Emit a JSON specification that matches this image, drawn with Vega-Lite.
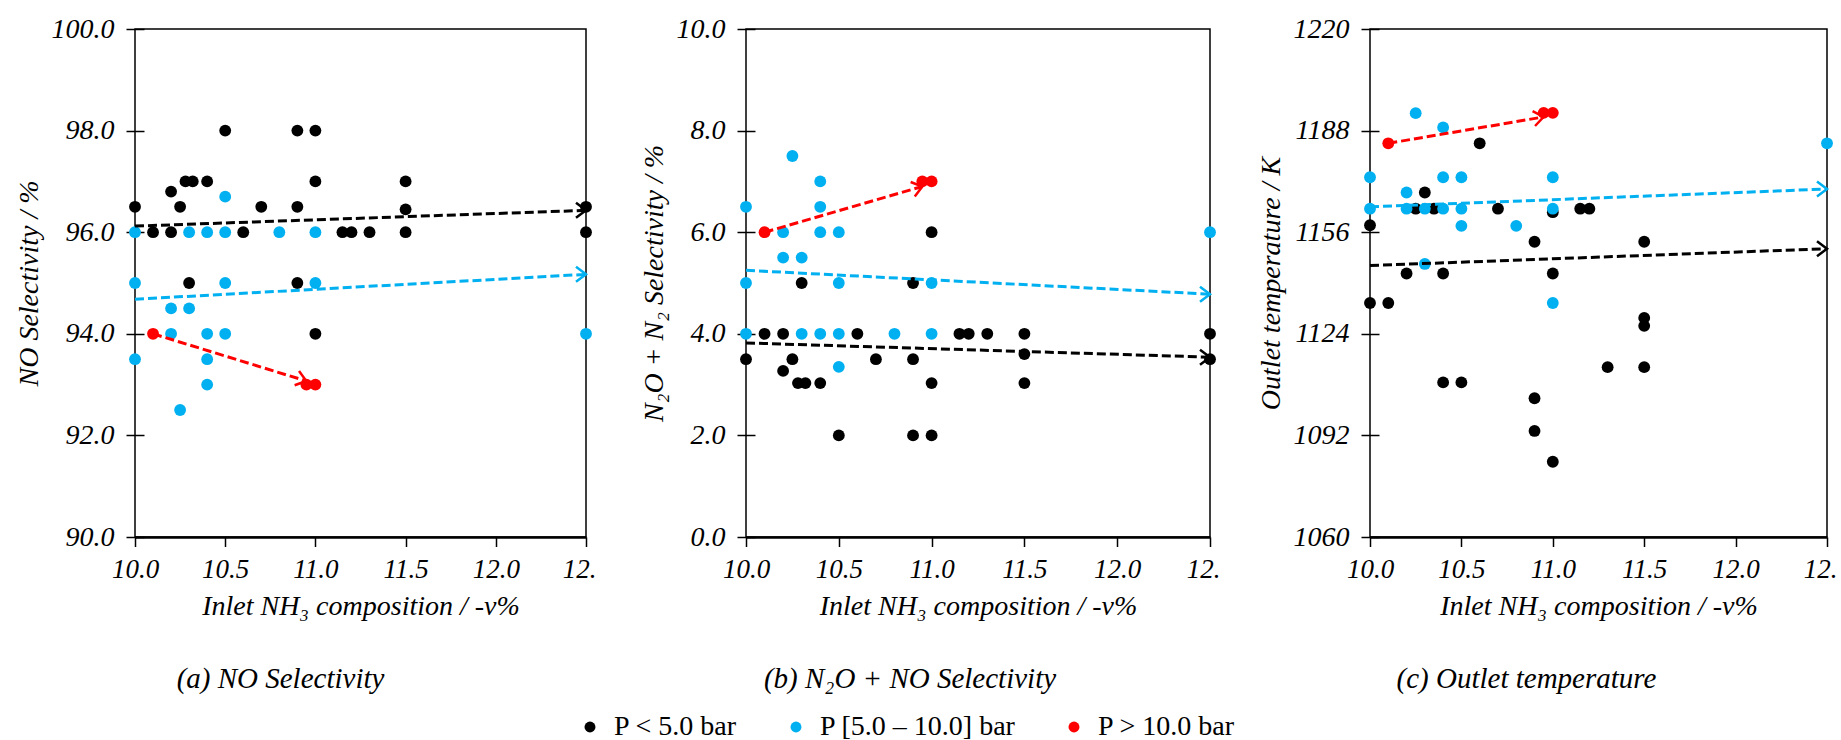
{
  "$schema": "https://vega.github.io/schema/vega-lite/v6.json",
  "background": "white",
  "padding": {"left": 14, "top": 14, "right": 0, "bottom": 0},
  "autosize": {"type": "pad"},
  "bounds": "flush",
  "spacing": 160,
  "config": {
    "font": "Liberation Serif",
    "view": {"stroke": "#000000", "strokeWidth": 1.5},
    "axis": {
      "grid": false,
      "labelFont": "Liberation Serif",
      "labelFontStyle": "italic",
      "labelColor": "#000000",
      "titleFont": "Liberation Serif",
      "titleFontStyle": "italic",
      "titleFontWeight": "normal",
      "titleColor": "#000000",
      "titleFontSize": 28,
      "tickColor": "#000000",
      "tickWidth": 1.5,
      "domainColor": "#000000"
    },
    "axisY": {
      "domain": false,
      "tickSize": 18,
      "offset": -9,
      "labelFontSize": 28,
      "labelPadding": 12,
      "titlePadding": 8
    },
    "axisX": {
      "tickSize": 9.5,
      "domainWidth": 2.5,
      "labelFontSize": 27,
      "labelPadding": 10,
      "titlePadding": 10,
      "labelFlush": false
    },
    "title": {
      "font": "Liberation Serif",
      "fontStyle": "italic",
      "fontWeight": "normal",
      "fontSize": 29,
      "color": "#000000",
      "orient": "bottom",
      "anchor": "middle",
      "offset": 44
    }
  },
  "resolve": {
    "scale": {"color": "shared", "stroke": "shared"},
    "legend": {"color": "shared"}
  },
  "datasets": {
    "points": [
      {"panel": "a", "p": "P < 5.0 bar", "x": 10.0, "y": 96.5},
      {"panel": "a", "p": "P < 5.0 bar", "x": 10.1, "y": 96.0},
      {"panel": "a", "p": "P < 5.0 bar", "x": 10.2, "y": 96.0},
      {"panel": "a", "p": "P < 5.0 bar", "x": 10.2, "y": 96.8},
      {"panel": "a", "p": "P < 5.0 bar", "x": 10.25, "y": 96.5},
      {"panel": "a", "p": "P < 5.0 bar", "x": 10.28, "y": 97.0},
      {"panel": "a", "p": "P < 5.0 bar", "x": 10.32, "y": 97.0},
      {"panel": "a", "p": "P < 5.0 bar", "x": 10.4, "y": 97.0},
      {"panel": "a", "p": "P < 5.0 bar", "x": 10.5, "y": 98.0},
      {"panel": "a", "p": "P < 5.0 bar", "x": 10.6, "y": 96.0},
      {"panel": "a", "p": "P < 5.0 bar", "x": 10.7, "y": 96.5},
      {"panel": "a", "p": "P < 5.0 bar", "x": 10.9, "y": 98.0},
      {"panel": "a", "p": "P < 5.0 bar", "x": 10.9, "y": 96.5},
      {"panel": "a", "p": "P < 5.0 bar", "x": 11.0, "y": 98.0},
      {"panel": "a", "p": "P < 5.0 bar", "x": 11.0, "y": 97.0},
      {"panel": "a", "p": "P < 5.0 bar", "x": 11.15, "y": 96.0},
      {"panel": "a", "p": "P < 5.0 bar", "x": 11.2, "y": 96.0},
      {"panel": "a", "p": "P < 5.0 bar", "x": 11.3, "y": 96.0},
      {"panel": "a", "p": "P < 5.0 bar", "x": 11.5, "y": 97.0},
      {"panel": "a", "p": "P < 5.0 bar", "x": 11.5, "y": 96.45},
      {"panel": "a", "p": "P < 5.0 bar", "x": 11.5, "y": 96.0},
      {"panel": "a", "p": "P < 5.0 bar", "x": 12.5, "y": 96.5},
      {"panel": "a", "p": "P < 5.0 bar", "x": 12.5, "y": 96.0},
      {"panel": "a", "p": "P < 5.0 bar", "x": 10.3, "y": 95.0},
      {"panel": "a", "p": "P < 5.0 bar", "x": 10.9, "y": 95.0},
      {"panel": "a", "p": "P < 5.0 bar", "x": 11.0, "y": 94.0},
      {"panel": "a", "p": "P [5.0 – 10.0] bar", "x": 10.0, "y": 96.0},
      {"panel": "a", "p": "P [5.0 – 10.0] bar", "x": 10.3, "y": 96.0},
      {"panel": "a", "p": "P [5.0 – 10.0] bar", "x": 10.4, "y": 96.0},
      {"panel": "a", "p": "P [5.0 – 10.0] bar", "x": 10.5, "y": 96.0},
      {"panel": "a", "p": "P [5.0 – 10.0] bar", "x": 10.5, "y": 96.7},
      {"panel": "a", "p": "P [5.0 – 10.0] bar", "x": 10.8, "y": 96.0},
      {"panel": "a", "p": "P [5.0 – 10.0] bar", "x": 11.0, "y": 96.0},
      {"panel": "a", "p": "P [5.0 – 10.0] bar", "x": 10.0, "y": 95.0},
      {"panel": "a", "p": "P [5.0 – 10.0] bar", "x": 10.5, "y": 95.0},
      {"panel": "a", "p": "P [5.0 – 10.0] bar", "x": 11.0, "y": 95.0},
      {"panel": "a", "p": "P [5.0 – 10.0] bar", "x": 10.2, "y": 94.5},
      {"panel": "a", "p": "P [5.0 – 10.0] bar", "x": 10.3, "y": 94.5},
      {"panel": "a", "p": "P [5.0 – 10.0] bar", "x": 10.2, "y": 94.0},
      {"panel": "a", "p": "P [5.0 – 10.0] bar", "x": 10.4, "y": 94.0},
      {"panel": "a", "p": "P [5.0 – 10.0] bar", "x": 10.5, "y": 94.0},
      {"panel": "a", "p": "P [5.0 – 10.0] bar", "x": 10.0, "y": 93.5},
      {"panel": "a", "p": "P [5.0 – 10.0] bar", "x": 10.4, "y": 93.5},
      {"panel": "a", "p": "P [5.0 – 10.0] bar", "x": 10.4, "y": 93.0},
      {"panel": "a", "p": "P [5.0 – 10.0] bar", "x": 10.25, "y": 92.5},
      {"panel": "a", "p": "P [5.0 – 10.0] bar", "x": 12.5, "y": 94.0},
      {"panel": "a", "p": "P > 10.0 bar", "x": 10.1, "y": 94.0},
      {"panel": "a", "p": "P > 10.0 bar", "x": 10.95, "y": 93.0},
      {"panel": "a", "p": "P > 10.0 bar", "x": 11.0, "y": 93.0},

      {"panel": "b", "p": "P < 5.0 bar", "x": 10.3, "y": 5.0},
      {"panel": "b", "p": "P < 5.0 bar", "x": 10.9, "y": 5.0},
      {"panel": "b", "p": "P < 5.0 bar", "x": 11.0, "y": 6.0},
      {"panel": "b", "p": "P < 5.0 bar", "x": 10.1, "y": 4.0},
      {"panel": "b", "p": "P < 5.0 bar", "x": 10.2, "y": 4.0},
      {"panel": "b", "p": "P < 5.0 bar", "x": 10.6, "y": 4.0},
      {"panel": "b", "p": "P < 5.0 bar", "x": 11.15, "y": 4.0},
      {"panel": "b", "p": "P < 5.0 bar", "x": 11.2, "y": 4.0},
      {"panel": "b", "p": "P < 5.0 bar", "x": 11.3, "y": 4.0},
      {"panel": "b", "p": "P < 5.0 bar", "x": 11.5, "y": 4.0},
      {"panel": "b", "p": "P < 5.0 bar", "x": 12.5, "y": 4.0},
      {"panel": "b", "p": "P < 5.0 bar", "x": 10.0, "y": 3.5},
      {"panel": "b", "p": "P < 5.0 bar", "x": 10.25, "y": 3.5},
      {"panel": "b", "p": "P < 5.0 bar", "x": 10.7, "y": 3.5},
      {"panel": "b", "p": "P < 5.0 bar", "x": 10.9, "y": 3.5},
      {"panel": "b", "p": "P < 5.0 bar", "x": 11.5, "y": 3.6},
      {"panel": "b", "p": "P < 5.0 bar", "x": 12.5, "y": 3.5},
      {"panel": "b", "p": "P < 5.0 bar", "x": 10.2, "y": 3.27},
      {"panel": "b", "p": "P < 5.0 bar", "x": 10.28, "y": 3.03},
      {"panel": "b", "p": "P < 5.0 bar", "x": 10.32, "y": 3.03},
      {"panel": "b", "p": "P < 5.0 bar", "x": 10.4, "y": 3.03},
      {"panel": "b", "p": "P < 5.0 bar", "x": 11.0, "y": 3.03},
      {"panel": "b", "p": "P < 5.0 bar", "x": 11.5, "y": 3.03},
      {"panel": "b", "p": "P < 5.0 bar", "x": 10.5, "y": 2.0},
      {"panel": "b", "p": "P < 5.0 bar", "x": 10.9, "y": 2.0},
      {"panel": "b", "p": "P < 5.0 bar", "x": 11.0, "y": 2.0},
      {"panel": "b", "p": "P [5.0 – 10.0] bar", "x": 10.25, "y": 7.5},
      {"panel": "b", "p": "P [5.0 – 10.0] bar", "x": 10.4, "y": 7.0},
      {"panel": "b", "p": "P [5.0 – 10.0] bar", "x": 10.0, "y": 6.5},
      {"panel": "b", "p": "P [5.0 – 10.0] bar", "x": 10.4, "y": 6.5},
      {"panel": "b", "p": "P [5.0 – 10.0] bar", "x": 10.2, "y": 6.0},
      {"panel": "b", "p": "P [5.0 – 10.0] bar", "x": 10.4, "y": 6.0},
      {"panel": "b", "p": "P [5.0 – 10.0] bar", "x": 10.5, "y": 6.0},
      {"panel": "b", "p": "P [5.0 – 10.0] bar", "x": 10.2, "y": 5.5},
      {"panel": "b", "p": "P [5.0 – 10.0] bar", "x": 10.3, "y": 5.5},
      {"panel": "b", "p": "P [5.0 – 10.0] bar", "x": 10.0, "y": 5.0},
      {"panel": "b", "p": "P [5.0 – 10.0] bar", "x": 10.5, "y": 5.0},
      {"panel": "b", "p": "P [5.0 – 10.0] bar", "x": 11.0, "y": 5.0},
      {"panel": "b", "p": "P [5.0 – 10.0] bar", "x": 12.5, "y": 6.0},
      {"panel": "b", "p": "P [5.0 – 10.0] bar", "x": 10.0, "y": 4.0},
      {"panel": "b", "p": "P [5.0 – 10.0] bar", "x": 10.3, "y": 4.0},
      {"panel": "b", "p": "P [5.0 – 10.0] bar", "x": 10.4, "y": 4.0},
      {"panel": "b", "p": "P [5.0 – 10.0] bar", "x": 10.5, "y": 4.0},
      {"panel": "b", "p": "P [5.0 – 10.0] bar", "x": 10.8, "y": 4.0},
      {"panel": "b", "p": "P [5.0 – 10.0] bar", "x": 11.0, "y": 4.0},
      {"panel": "b", "p": "P [5.0 – 10.0] bar", "x": 10.5, "y": 3.35},
      {"panel": "b", "p": "P > 10.0 bar", "x": 10.1, "y": 6.0},
      {"panel": "b", "p": "P > 10.0 bar", "x": 10.95, "y": 7.0},
      {"panel": "b", "p": "P > 10.0 bar", "x": 11.0, "y": 7.0},

      {"panel": "c", "p": "P < 5.0 bar", "x": 10.6, "y": 1184},
      {"panel": "c", "p": "P < 5.0 bar", "x": 10.3, "y": 1168.5},
      {"panel": "c", "p": "P < 5.0 bar", "x": 10.25, "y": 1163.4},
      {"panel": "c", "p": "P < 5.0 bar", "x": 10.35, "y": 1163.4},
      {"panel": "c", "p": "P < 5.0 bar", "x": 10.7, "y": 1163.4},
      {"panel": "c", "p": "P < 5.0 bar", "x": 11.15, "y": 1163.4},
      {"panel": "c", "p": "P < 5.0 bar", "x": 11.2, "y": 1163.4},
      {"panel": "c", "p": "P < 5.0 bar", "x": 11.0, "y": 1162.3},
      {"panel": "c", "p": "P < 5.0 bar", "x": 10.0, "y": 1158.2},
      {"panel": "c", "p": "P < 5.0 bar", "x": 10.9, "y": 1153},
      {"panel": "c", "p": "P < 5.0 bar", "x": 11.5, "y": 1153},
      {"panel": "c", "p": "P < 5.0 bar", "x": 10.2, "y": 1143},
      {"panel": "c", "p": "P < 5.0 bar", "x": 10.4, "y": 1143},
      {"panel": "c", "p": "P < 5.0 bar", "x": 11.0, "y": 1143},
      {"panel": "c", "p": "P < 5.0 bar", "x": 10.0, "y": 1133.7},
      {"panel": "c", "p": "P < 5.0 bar", "x": 10.1, "y": 1133.7},
      {"panel": "c", "p": "P < 5.0 bar", "x": 11.5, "y": 1129},
      {"panel": "c", "p": "P < 5.0 bar", "x": 11.5, "y": 1126.5},
      {"panel": "c", "p": "P < 5.0 bar", "x": 11.3, "y": 1113.5},
      {"panel": "c", "p": "P < 5.0 bar", "x": 11.5, "y": 1113.5},
      {"panel": "c", "p": "P < 5.0 bar", "x": 10.4, "y": 1108.7},
      {"panel": "c", "p": "P < 5.0 bar", "x": 10.5, "y": 1108.7},
      {"panel": "c", "p": "P < 5.0 bar", "x": 10.9, "y": 1103.7},
      {"panel": "c", "p": "P < 5.0 bar", "x": 10.9, "y": 1093.4},
      {"panel": "c", "p": "P < 5.0 bar", "x": 11.0, "y": 1083.7},
      {"panel": "c", "p": "P [5.0 – 10.0] bar", "x": 10.25, "y": 1193.5},
      {"panel": "c", "p": "P [5.0 – 10.0] bar", "x": 10.4, "y": 1189},
      {"panel": "c", "p": "P [5.0 – 10.0] bar", "x": 12.5, "y": 1184},
      {"panel": "c", "p": "P [5.0 – 10.0] bar", "x": 10.0, "y": 1173.3},
      {"panel": "c", "p": "P [5.0 – 10.0] bar", "x": 10.4, "y": 1173.3},
      {"panel": "c", "p": "P [5.0 – 10.0] bar", "x": 10.5, "y": 1173.3},
      {"panel": "c", "p": "P [5.0 – 10.0] bar", "x": 11.0, "y": 1173.3},
      {"panel": "c", "p": "P [5.0 – 10.0] bar", "x": 10.2, "y": 1168.5},
      {"panel": "c", "p": "P [5.0 – 10.0] bar", "x": 10.0, "y": 1163.4},
      {"panel": "c", "p": "P [5.0 – 10.0] bar", "x": 10.2, "y": 1163.4},
      {"panel": "c", "p": "P [5.0 – 10.0] bar", "x": 10.3, "y": 1163.4},
      {"panel": "c", "p": "P [5.0 – 10.0] bar", "x": 10.4, "y": 1163.4},
      {"panel": "c", "p": "P [5.0 – 10.0] bar", "x": 10.5, "y": 1163.4},
      {"panel": "c", "p": "P [5.0 – 10.0] bar", "x": 11.0, "y": 1163.4},
      {"panel": "c", "p": "P [5.0 – 10.0] bar", "x": 10.5, "y": 1158},
      {"panel": "c", "p": "P [5.0 – 10.0] bar", "x": 10.8, "y": 1158},
      {"panel": "c", "p": "P [5.0 – 10.0] bar", "x": 10.3, "y": 1146},
      {"panel": "c", "p": "P [5.0 – 10.0] bar", "x": 11.0, "y": 1133.7},
      {"panel": "c", "p": "P > 10.0 bar", "x": 10.1, "y": 1184},
      {"panel": "c", "p": "P > 10.0 bar", "x": 10.95, "y": 1193.6},
      {"panel": "c", "p": "P > 10.0 bar", "x": 11.0, "y": 1193.6}
    ],
    "trends": [
      {"panel": "a", "p": "P < 5.0 bar", "x": 10.0, "y": 96.12},
      {"panel": "a", "p": "P < 5.0 bar", "x": 12.5, "y": 96.43},
      {"panel": "a", "p": "P [5.0 – 10.0] bar", "x": 10.0, "y": 94.68},
      {"panel": "a", "p": "P [5.0 – 10.0] bar", "x": 12.5, "y": 95.17},
      {"panel": "a", "p": "P > 10.0 bar", "x": 10.1, "y": 94.0},
      {"panel": "a", "p": "P > 10.0 bar", "x": 10.95, "y": 93.07},
      {"panel": "b", "p": "P < 5.0 bar", "x": 10.0, "y": 3.82},
      {"panel": "b", "p": "P < 5.0 bar", "x": 12.5, "y": 3.54},
      {"panel": "b", "p": "P [5.0 – 10.0] bar", "x": 10.0, "y": 5.25},
      {"panel": "b", "p": "P [5.0 – 10.0] bar", "x": 12.5, "y": 4.78},
      {"panel": "b", "p": "P > 10.0 bar", "x": 10.1, "y": 6.0},
      {"panel": "b", "p": "P > 10.0 bar", "x": 10.95, "y": 6.9},
      {"panel": "c", "p": "P < 5.0 bar", "x": 10.0, "y": 1145.5},
      {"panel": "c", "p": "P < 5.0 bar", "x": 12.5, "y": 1150.8},
      {"panel": "c", "p": "P [5.0 – 10.0] bar", "x": 10.0, "y": 1164},
      {"panel": "c", "p": "P [5.0 – 10.0] bar", "x": 12.5, "y": 1169.6},
      {"panel": "c", "p": "P > 10.0 bar", "x": 10.1, "y": 1184},
      {"panel": "c", "p": "P > 10.0 bar", "x": 10.95, "y": 1192.3}
    ]
  },
  "hconcat": [
    {
      "width": 451,
      "height": 508,
      "title": {"text": "(a) NO Selectivity", "dx": -80},
      "layer": [
        {
          "data": {"name": "points"},
          "transform": [{"filter": "datum.panel === 'a'"}],
          "mark": {"type": "point", "filled": true, "opacity": 1, "size": 140},
          "encoding": {
            "x": {"field": "x", "type": "quantitative",
              "scale": {"domain": [10, 12.5], "nice": false, "zero": false},
              "axis": {"values": [10, 10.5, 11, 11.5, 12, 12.5], "format": ".1f",
                "labelExpr": "datum.value === 12.5 ? '12.' : datum.label",
                "labelOffset": {"condition": {"test": "datum.value === 12.5", "value": -7}, "value": 0},
                "title": "Inlet NH₃ composition / -v%"}},
            "y": {"field": "y", "type": "quantitative",
              "scale": {"domain": [90, 100], "nice": false, "zero": false},
              "axis": {"values": [90, 92, 94, 96, 98, 100], "format": ".1f",
                "title": "NO Selectivity / %"}},
            "color": {"field": "p", "type": "nominal",
              "scale": {"domain": ["P < 5.0 bar", "P [5.0 – 10.0] bar", "P > 10.0 bar"],
                "range": ["#000000", "#00b0f0", "#ff0000"]},
              "legend": {
                "orient": "none", "legendX": 441, "legendY": 684,
                "direction": "horizontal", "title": null,
                "labelFont": "Liberation Serif", "labelFontSize": 28, "labelColor": "#000000",
                "labelLimit": 500,
                "symbolType": "circle", "symbolSize": 120, "symbolStrokeWidth": 0,
                "columnPadding": 44, "labelOffset": 10, "padding": 0
              }}
          }
        },
        {
          "data": {"name": "trends"},
          "transform": [{"filter": "datum.panel === 'a'"}],
          "mark": {"type": "line", "strokeDash": [9, 4], "strokeWidth": 3},
          "encoding": {
            "x": {"field": "x", "type": "quantitative"},
            "y": {"field": "y", "type": "quantitative"},
            "stroke": {"field": "p", "type": "nominal",
              "scale": {"domain": ["P < 5.0 bar", "P [5.0 – 10.0] bar", "P > 10.0 bar"],
                "range": ["#000000", "#00b0f0", "#ff0000"]}, "legend": null}
          }
        },
        {
          "data": {"name": "trends"},
          "transform": [
            {"filter": "datum.panel === 'a'"},
            {"joinaggregate": [{"op": "max", "field": "x", "as": "xend"}], "groupby": ["p"]},
            {"filter": "datum.x === datum.xend && datum.p !== 'P > 10.0 bar'"}
          ],
          "mark": {"type": "point", "shape": "M-1,-0.75L0,0L-1,0.75", "filled": false, "strokeWidth": 2.5, "size": 400, "opacity": 1},
          "encoding": {
            "x": {"field": "x", "type": "quantitative"},
            "y": {"field": "y", "type": "quantitative"},
            "stroke": {"field": "p", "type": "nominal", "legend": null}
          }
        },
        {
          "data": {"name": "trends"},
          "transform": [
            {"filter": "datum.panel === 'a' && datum.p === 'P > 10.0 bar'"},
            {"joinaggregate": [{"op": "max", "field": "x", "as": "xend"}]},
            {"filter": "datum.x === datum.xend"}
          ],
          "mark": {"type": "point", "shape": "M-1,-0.75L0,0L-1,0.75", "filled": false, "strokeWidth": 2.5, "size": 400, "opacity": 1, "angle": 17},
          "encoding": {
            "x": {"field": "x", "type": "quantitative"},
            "y": {"field": "y", "type": "quantitative"},
            "stroke": {"field": "p", "type": "nominal", "legend": null}
          }
        }
      ]
    },
    {
      "width": 464,
      "height": 508,
      "title": {"text": "(b) N₂O + NO Selectivity", "dx": -68},
      "layer": [
        {
          "data": {"name": "points"},
          "transform": [{"filter": "datum.panel === 'b'"}],
          "mark": {"type": "point", "filled": true, "opacity": 1, "size": 140},
          "encoding": {
            "x": {"field": "x", "type": "quantitative",
              "scale": {"domain": [10, 12.5], "nice": false, "zero": false},
              "axis": {"values": [10, 10.5, 11, 11.5, 12, 12.5], "format": ".1f",
                "labelExpr": "datum.value === 12.5 ? '12.' : datum.label",
                "labelOffset": {"condition": {"test": "datum.value === 12.5", "value": -7}, "value": 0},
                "title": "Inlet NH₃ composition / -v%"}},
            "y": {"field": "y", "type": "quantitative",
              "scale": {"domain": [0, 10], "nice": false},
              "axis": {"values": [0, 2, 4, 6, 8, 10], "format": ".1f",
                "title": "N₂O + N₂ Selectivity / %"}},
            "color": {"field": "p", "type": "nominal", "legend": null}
          }
        },
        {
          "data": {"name": "trends"},
          "transform": [{"filter": "datum.panel === 'b'"}],
          "mark": {"type": "line", "strokeDash": [9, 4], "strokeWidth": 3},
          "encoding": {
            "x": {"field": "x", "type": "quantitative"},
            "y": {"field": "y", "type": "quantitative"},
            "stroke": {"field": "p", "type": "nominal", "legend": null}
          }
        },
        {
          "data": {"name": "trends"},
          "transform": [
            {"filter": "datum.panel === 'b'"},
            {"joinaggregate": [{"op": "max", "field": "x", "as": "xend"}], "groupby": ["p"]},
            {"filter": "datum.x === datum.xend && datum.p !== 'P > 10.0 bar'"}
          ],
          "mark": {"type": "point", "shape": "M-1,-0.75L0,0L-1,0.75", "filled": false, "strokeWidth": 2.5, "size": 400, "opacity": 1},
          "encoding": {
            "x": {"field": "x", "type": "quantitative"},
            "y": {"field": "y", "type": "quantitative"},
            "stroke": {"field": "p", "type": "nominal", "legend": null}
          }
        },
        {
          "data": {"name": "trends"},
          "transform": [
            {"filter": "datum.panel === 'b' && datum.p === 'P > 10.0 bar'"},
            {"joinaggregate": [{"op": "max", "field": "x", "as": "xend"}]},
            {"filter": "datum.x === datum.xend"}
          ],
          "mark": {"type": "point", "shape": "M-1,-0.75L0,0L-1,0.75", "filled": false, "strokeWidth": 2.5, "size": 400, "opacity": 1, "angle": -16},
          "encoding": {
            "x": {"field": "x", "type": "quantitative"},
            "y": {"field": "y", "type": "quantitative"},
            "stroke": {"field": "p", "type": "nominal", "legend": null}
          }
        }
      ]
    },
    {
      "width": 457,
      "height": 508,
      "title": {"text": "(c) Outlet temperature", "dx": -72},
      "layer": [
        {
          "data": {"name": "points"},
          "transform": [{"filter": "datum.panel === 'c'"}],
          "mark": {"type": "point", "filled": true, "opacity": 1, "size": 140},
          "encoding": {
            "x": {"field": "x", "type": "quantitative",
              "scale": {"domain": [10, 12.5], "nice": false, "zero": false},
              "axis": {"values": [10, 10.5, 11, 11.5, 12, 12.5], "format": ".1f",
                "labelExpr": "datum.value === 12.5 ? '12.' : datum.label",
                "labelOffset": {"condition": {"test": "datum.value === 12.5", "value": -7}, "value": 0},
                "title": "Inlet NH₃ composition / -v%"}},
            "y": {"field": "y", "type": "quantitative",
              "scale": {"domain": [1060, 1220], "nice": false, "zero": false},
              "axis": {"values": [1060, 1092, 1124, 1156, 1188, 1220], "format": "d",
                "title": "Outlet temperature / K"}},
            "color": {"field": "p", "type": "nominal", "legend": null}
          }
        },
        {
          "data": {"name": "trends"},
          "transform": [{"filter": "datum.panel === 'c'"}],
          "mark": {"type": "line", "strokeDash": [9, 4], "strokeWidth": 3},
          "encoding": {
            "x": {"field": "x", "type": "quantitative"},
            "y": {"field": "y", "type": "quantitative"},
            "stroke": {"field": "p", "type": "nominal", "legend": null}
          }
        },
        {
          "data": {"name": "trends"},
          "transform": [
            {"filter": "datum.panel === 'c'"},
            {"joinaggregate": [{"op": "max", "field": "x", "as": "xend"}], "groupby": ["p"]},
            {"filter": "datum.x === datum.xend && datum.p !== 'P > 10.0 bar'"}
          ],
          "mark": {"type": "point", "shape": "M-1,-0.75L0,0L-1,0.75", "filled": false, "strokeWidth": 2.5, "size": 400, "opacity": 1},
          "encoding": {
            "x": {"field": "x", "type": "quantitative"},
            "y": {"field": "y", "type": "quantitative"},
            "stroke": {"field": "p", "type": "nominal", "legend": null}
          }
        },
        {
          "data": {"name": "trends"},
          "transform": [
            {"filter": "datum.panel === 'c' && datum.p === 'P > 10.0 bar'"},
            {"joinaggregate": [{"op": "max", "field": "x", "as": "xend"}]},
            {"filter": "datum.x === datum.xend"}
          ],
          "mark": {"type": "point", "shape": "M-1,-0.75L0,0L-1,0.75", "filled": false, "strokeWidth": 2.5, "size": 400, "opacity": 1, "angle": -9.5},
          "encoding": {
            "x": {"field": "x", "type": "quantitative"},
            "y": {"field": "y", "type": "quantitative"},
            "stroke": {"field": "p", "type": "nominal", "legend": null}
          }
        }
      ]
    }
  ]
}
